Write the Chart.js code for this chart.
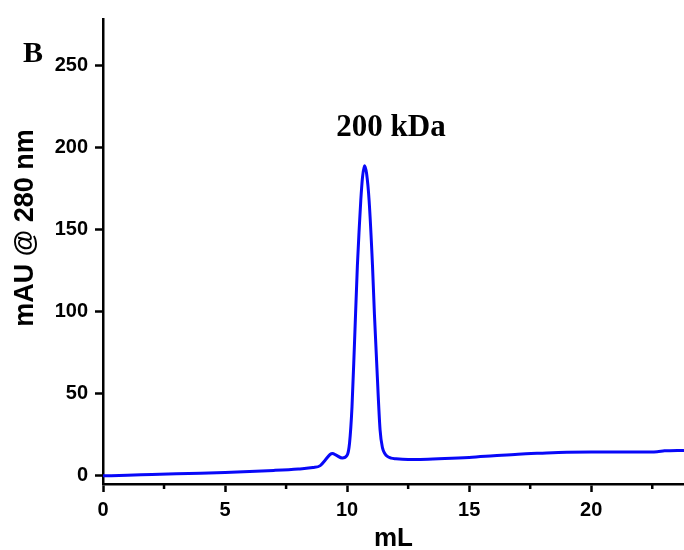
<!DOCTYPE html>
<html>
<head>
<meta charset="utf-8">
<script src="https://cdn.jsdelivr.net/npm/chart.js@4/dist/chart.umd.min.js"></script>
<style>
  html, body { margin: 0; padding: 0; background: #fff; }
  #wrap { width: 684px; height: 550px; }
</style>
</head>
<body>
<div id="wrap"><canvas id="sec"></canvas></div>
<script>
// Elution volume (mL) and absorbance (mAU @ 280 nm)
const volumes = [0, 1, 2, 3, 4, 5, 6, 7, 8, 8.6, 8.9, 9.1, 9.3, 9.4, 9.55, 9.8,
  10.0, 10.1, 10.2, 10.3, 10.42, 10.5, 10.56, 10.63, 10.71, 10.8, 10.9, 11.04,
  11.12, 11.22, 11.35, 11.45, 11.55, 11.65, 11.8, 12.0, 12.5, 13, 14, 15, 16,
  17, 18, 19, 20, 21, 22, 22.7, 23, 23.8];
const absorb = [0, 0.3, 0.8, 1.2, 1.6, 2.0, 2.6, 3.3, 4.2, 5.0, 6.2, 9.5, 13.0,
  13.6, 12.6, 10.8, 12.5, 20, 42, 80, 128, 152, 168, 182, 189, 184, 168, 128,
  98, 66, 28, 17, 13.5, 11.8, 10.8, 10.4, 10.0, 10.0, 10.5, 11.2, 12.2, 13.2,
  13.8, 14.3, 14.5, 14.5, 14.5, 14.7, 15.2, 15.5];

const xMajor = [0, 5, 10, 15, 20];
const xMinor = [2.5, 7.5, 12.5, 17.5, 22.5];
const yMajor = [0, 50, 100, 150, 200, 250];

const peakLabel = '200 kDa';
const panelLabel = 'B';
const yTitle = 'mAU @ 280 nm';
const xTitle = 'mL';

// minor ticks on x axis plus the text that sits outside the scales
const extrasPlugin = {
  id: 'extras',
  afterDraw(chart) {
    const ctx = chart.ctx;
    const xs = chart.scales.x;
    const ys = chart.scales.y;
    const bottom = chart.chartArea.bottom;
    ctx.save();
    ctx.strokeStyle = '#000';
    ctx.lineWidth = 2.5;
    xMinor.forEach(v => {
      const px = xs.getPixelForValue(v);
      ctx.beginPath();
      ctx.moveTo(px, bottom);
      ctx.lineTo(px, bottom + 5);
      ctx.stroke();
    });

    ctx.fillStyle = '#000';
    ctx.font = 'bold 31px "Liberation Serif", "Times New Roman", serif';
    ctx.textAlign = 'center';
    ctx.textBaseline = 'alphabetic';
    ctx.fillText(peakLabel, xs.getPixelForValue(11.8), ys.getPixelForValue(207));

    ctx.textAlign = 'left';
    ctx.font = 'bold 30px "Liberation Serif", "Times New Roman", serif';
    ctx.fillText(panelLabel, 23, 62);

    ctx.translate(26, 228);
    ctx.rotate(-Math.PI / 2);
    ctx.textAlign = 'center';
    ctx.textBaseline = 'middle';
    ctx.font = 'bold 27px "Liberation Sans", Arial, sans-serif';
    ctx.fillText(yTitle, 0, 0);
    ctx.restore();
  }
};

const tickFont = { family: '"Liberation Sans", Arial, sans-serif', size: 20, weight: 'bold' };

new Chart(document.getElementById('sec'), {
  type: 'line',
  data: {
    datasets: [{
      data: volumes.map((v, i) => ({ x: v, y: absorb[i] })),
      borderColor: '#0808f8',
      borderWidth: 3,
      pointRadius: 0,
      fill: false,
      cubicInterpolationMode: 'monotone'
    }]
  },
  options: {
    responsive: true,
    maintainAspectRatio: false,
    animation: false,
    layout: { padding: { top: 13, right: 0, left: 0, bottom: 0 } },
    plugins: {
      legend: { display: false },
      tooltip: { enabled: false }
    },
    scales: {
      x: {
        type: 'linear',
        min: 0,
        max: 23.8,
        afterBuildTicks: s => { s.ticks = xMajor.map(v => ({ value: v })); },
        afterFit: s => { s.height = 66; },
        grid: { drawOnChartArea: false, tickLength: 8, tickWidth: 2.5, tickColor: '#000' },
        border: { display: true, color: '#000', width: 2.5 },
        ticks: { color: '#000', font: tickFont, padding: 6, maxRotation: 0 },
        title: {
          display: true,
          text: xTitle,
          color: '#000',
          font: { family: '"Liberation Sans", Arial, sans-serif', size: 26, weight: 'bold' },
          padding: { top: 10, bottom: -4 }
        }
      },
      y: {
        min: -5,
        max: 278.5,
        afterBuildTicks: s => { s.ticks = yMajor.map(v => ({ value: v })); },
        afterFit: s => { s.width = 103; },
        grid: { drawOnChartArea: false, tickLength: 8, tickWidth: 2.5, tickColor: '#000' },
        border: { display: true, color: '#000', width: 2.5 },
        ticks: { color: '#000', font: tickFont, padding: 7 }
      }
    }
  },
  plugins: [extrasPlugin]
});
</script>
</body>
</html>
